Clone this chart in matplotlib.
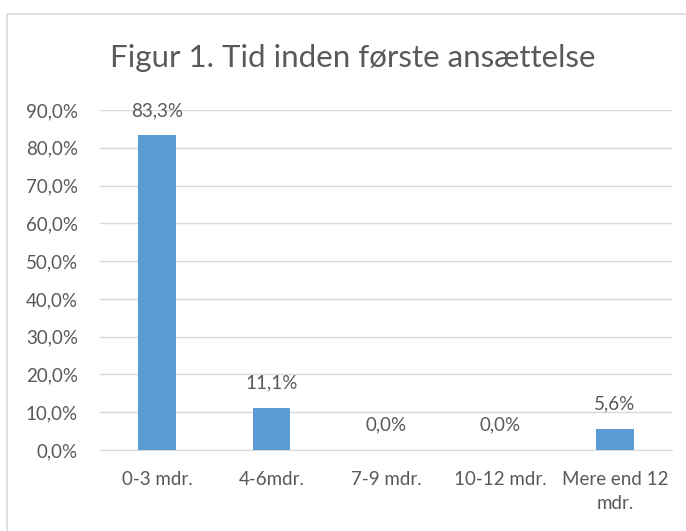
import matplotlib.pyplot as plt
from matplotlib.patches import Rectangle
from matplotlib.ticker import FuncFormatter

# data
categories = ["0-3 mdr.", "4-6mdr.", "7-9 mdr.", "10-12 mdr.", "Mere end 12\nmdr."]
values = [83.3, 11.1, 0.0, 0.0, 5.6]
yticks = [0, 10, 20, 30, 40, 50, 60, 70, 80, 90]

plt.rcParams['font.family'] = ['Lato', 'DejaVu Sans']
text_color = "#595959"

fig = plt.figure(figsize=(6.86, 5.31), dpi=100)

# chart border (cropped at right/bottom)
fig.patches.append(Rectangle((7 / 686, -0.1), 1.1, (531 - 14) / 531 + 0.1,
                             transform=fig.transFigure, fill=False,
                             edgecolor="#D9D9D9", linewidth=1.2))

ax = fig.add_axes([100 / 686, 81 / 531, 572 / 686, 340 / 531])
x = range(len(categories))
ax.bar(x, values, width=0.33, color="#5B9BD5", zorder=3)

for xi, v in zip(x, values):
    ax.text(xi, v + 4.3, f"{v:.1f}%".replace(".", ","), ha="center", va="bottom",
            fontsize=13.5, color=text_color)

ax.set_xlim(-0.5, len(categories) - 0.5)
ax.set_ylim(0, 90)
ax.set_yticks(yticks)
ax.yaxis.set_major_formatter(FuncFormatter(lambda v, p: f"{v:.1f}%".replace(".", ",")))
ax.set_xticks(list(x))
ax.set_xticklabels(categories, linespacing=1.5)
ax.tick_params(axis="both", length=0, labelsize=13.5, labelcolor=text_color)
ax.tick_params(axis="y", pad=16)
ax.tick_params(axis="x", pad=15)
ax.grid(axis="y", color="#D9D9D9", linewidth=1, zorder=0)
for s in ["top", "right", "left"]:
    ax.spines[s].set_visible(False)
ax.spines["bottom"].set_color("#D9D9D9")

fig.text(353 / 686, (531 - 58) / 531, "Figur 1. Tid inden første ansættelse",
         ha="center", va="center", fontsize=22.5, color=text_color)

fig.savefig("out.png", dpi=100)
